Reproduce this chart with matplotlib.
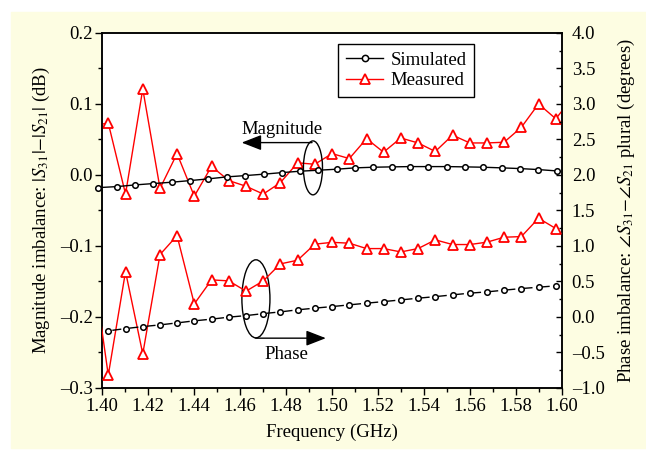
import numpy as np
import matplotlib.pyplot as plt
from matplotlib.patches import Rectangle, Ellipse
from matplotlib.lines import Line2D
from matplotlib.ticker import MultipleLocator, FormatStrFormatter, FuncFormatter

plt.rcParams['font.family'] = ['Liberation Serif', 'DejaVu Serif']
plt.rcParams['mathtext.fontset'] = 'stix'
plt.rcParams['font.size'] = 13.5

# --- data ---
# simulated magnitude imbalance (dB)
freq_sim_mag = [1.3984, 1.4064, 1.4144, 1.4223, 1.4303, 1.4383, 1.4462, 1.4542,
                1.4622, 1.4702, 1.4781, 1.4861, 1.4941, 1.5020, 1.5100, 1.5180,
                1.5260, 1.5339, 1.5419, 1.5499, 1.5578, 1.5658, 1.5738, 1.5818,
                1.5897, 1.5977]
mag_sim = [-0.0179, -0.0165, -0.0141, -0.0122, -0.0103, -0.0080, -0.0056, -0.0028,
           -0.0010, 0.0010, 0.0032, 0.0052, 0.0066, 0.0080, 0.0099, 0.0108,
           0.0113, 0.0117, 0.0117, 0.0117, 0.0113, 0.0108, 0.0099, 0.0089,
           0.0075, 0.0056]

# measured points + simulated phase share these frequencies
freq_meas = [1.4027, 1.4102, 1.4177, 1.4252, 1.4326, 1.4401, 1.4476, 1.4551,
             1.4626, 1.4701, 1.4775, 1.4850, 1.4925, 1.5000, 1.5075, 1.5150,
             1.5224, 1.5299, 1.5374, 1.5449, 1.5524, 1.5599, 1.5673, 1.5748,
             1.5823, 1.5898, 1.5973]
mag_meas = [0.073, -0.027, 0.121, -0.019, 0.030, -0.030, 0.012, -0.008,
            -0.016, -0.027, -0.011, 0.017, 0.015, 0.030, 0.023, 0.051,
            0.032, 0.052, 0.045, 0.033, 0.056, 0.045, 0.045, 0.046,
            0.067, 0.100, 0.079]
# line continues past both axis edges
freq_edge = [1.3952, 1.6048]
mag_edge = [0.069, 0.110]
phase_edge_left = 0.90

phase_sim = [-0.197, -0.165, -0.137, -0.113, -0.085, -0.056, -0.032, -0.004,
             0.018, 0.046, 0.070, 0.099, 0.123, 0.145, 0.169, 0.193,
             0.215, 0.239, 0.263, 0.285, 0.310, 0.334, 0.352, 0.376,
             0.399, 0.418, 0.437]
phase_meas = [-0.821, 0.638, -0.521, 0.878, 1.145, 0.183, 0.521, 0.507,
              0.362, 0.507, 0.746, 0.798, 1.024, 1.050, 1.038, 0.962,
              0.962, 0.915, 0.962, 1.085, 1.019, 1.019, 1.052, 1.122,
              1.131, 1.390, 1.244]

bg = '#fdfde2'
red = '#ff0000'

def dash_fmt(v, pos):
    # en dash as minus, like the original
    s = '%.1f' % v
    if s == '-0.0':
        s = '0.0'
    return s.replace('-', '\u2013')

fig = plt.figure(figsize=(6.46, 4.51), dpi=100)
fig.patches.append(Rectangle((11 / 646, 3 / 451), 635 / 646, 436 / 451,
                             transform=fig.transFigure, color=bg, zorder=-10))

ax = fig.add_axes([0.158, 0.140, 0.712, 0.787])
ax.set_facecolor('white')
ax2 = ax.twinx()

# magnitude (left axis)
ax.plot([freq_edge[0]] + freq_meas + [freq_edge[1]], [mag_edge[0]] + mag_meas + [mag_edge[1]],
        color=red, lw=1.0, marker='^', ms=7.5, mfc='white', mec=red, mew=1.3,
        markevery=list(range(1, len(freq_meas) + 1)), zorder=3)
ax.plot(freq_sim_mag, mag_sim, color='black', lw=1.0, marker='o', ms=4,
        mfc='white', mec='black', mew=1.1, clip_on=False, zorder=4)

# phase (right axis)
ax2.plot([freq_edge[0]] + freq_meas, [phase_edge_left] + phase_meas,
         color=red, lw=1.0, marker='^', ms=7.5, mfc='white', mec=red, mew=1.3,
         markevery=list(range(1, len(freq_meas) + 1)), zorder=3)
on, off = 6.5, 5.9
ax2.plot(freq_meas, phase_sim, color='black', lw=1.0,
         linestyle=(on + off / 2, (on, off)), marker='o', ms=4,
         mfc='white', mec='black', mew=1.1, zorder=4)

ax.set_xlim(1.40, 1.60)
ax.set_ylim(-0.3, 0.2)
ax2.set_ylim(-1.0, 4.0)

ax.xaxis.set_major_locator(MultipleLocator(0.02))
ax.xaxis.set_minor_locator(MultipleLocator(0.01))
ax.xaxis.set_major_formatter(FormatStrFormatter('%.2f'))
ax.yaxis.set_major_locator(MultipleLocator(0.1))
ax.yaxis.set_minor_locator(MultipleLocator(0.05))
ax.yaxis.set_major_formatter(FuncFormatter(dash_fmt))
ax2.yaxis.set_major_locator(MultipleLocator(0.5))
ax2.yaxis.set_minor_locator(MultipleLocator(0.25))
ax2.yaxis.set_major_formatter(FuncFormatter(dash_fmt))

ax.tick_params(axis='x', which='major', direction='out', length=5, width=1, pad=2.5)
ax.tick_params(axis='x', which='minor', direction='out', length=3, width=1)
ax.tick_params(axis='y', which='major', direction='out', length=5, width=1, pad=1.5)
ax.tick_params(axis='y', which='minor', direction='out', length=3, width=1)
ax2.tick_params(axis='y', which='major', direction='in', length=4, width=1, pad=7)
ax2.tick_params(axis='y', which='minor', direction='in', length=2.5, width=1)
for a in (ax, ax2):
    for s in a.spines.values():
        s.set_linewidth(1.1)

ax.set_xlabel('Frequency (GHz)', labelpad=6)
ax.set_ylabel(r'Magnitude imbalance: $|S_{31}|{-}|S_{21}|$ (dB)', labelpad=6)
ax2.set_ylabel(r'Phase imbalance: $\angle S_{31}{-}\angle S_{21}$ plural (degrees)', labelpad=8)

# annotations
ax.add_patch(Ellipse((1.4917, 0.0099), 0.0083, 0.076, fill=False, ec='black', lw=1.0, zorder=5))
ax.add_patch(Ellipse((1.4669, -0.1746), 0.0122, 0.110, fill=False, ec='black', lw=1.0, zorder=5))
ax.annotate('', xy=(1.4607, 0.0455), xytext=(1.4913, 0.0455),
            arrowprops=dict(arrowstyle='-|>,head_length=0.9,head_width=0.35',
                            color='black', lw=1.0, shrinkA=0, shrinkB=0))
ax.annotate('', xy=(1.4973, -0.230), xytext=(1.4668, -0.230),
            arrowprops=dict(arrowstyle='-|>,head_length=0.9,head_width=0.35',
                            color='black', lw=1.0, shrinkA=0, shrinkB=0))
ax.text(1.4781, 0.0644, 'Magnitude', ha='center', va='center', fontsize=13.5)
ax.text(1.4803, -0.2535, 'Phase', ha='center', va='center', fontsize=13.5)

handles = [Line2D([], [], color='black', lw=1.0, marker='o', ms=4.5, mfc='white', mew=1.1),
           Line2D([], [], color=red, lw=1.0, marker='^', ms=7.5, mfc='white', mec=red, mew=1.3)]
leg = ax2.legend(handles, ['Simulated', 'Measured'], loc='upper left',
                 bbox_to_anchor=(0.5137, 0.969), fontsize=13.5, frameon=True,
                 fancybox=False, edgecolor='black', framealpha=1,
                 handlelength=2.0, borderpad=0.4, labelspacing=0.2, handletextpad=0.4,
                 borderaxespad=0)
leg.get_frame().set_linewidth(1.0)

fig.savefig('out.png', dpi=100, facecolor='white')
